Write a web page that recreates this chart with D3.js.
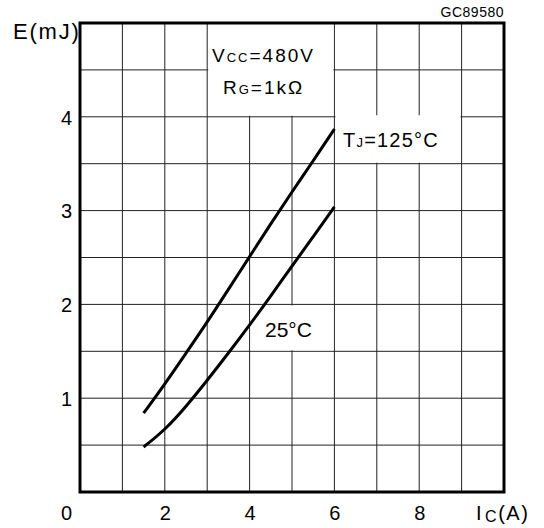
<!DOCTYPE html>
<html>
<head>
<meta charset="utf-8">
<script src="https://cdn.jsdelivr.net/npm/d3@7"></script>
<style>
  body { margin: 0; background: #fff; }
  text { font-family: "Liberation Sans", Arial, sans-serif; fill: #000; }
</style>
</head>
<body>
<div id="chart"></div>
<script>
// data
var xTicks = [0, 2, 4, 6, 8];
var yTicks = [1, 2, 3, 4];
var ic = [1.5, 2, 2.5, 3, 3.5, 4, 4.5, 5, 5.5, 6];
var e125 = [0.84, 1.15, 1.48, 1.81, 2.16, 2.51, 2.86, 3.20, 3.53, 3.87];
var e25 = [0.48, 0.66, 0.91, 1.19, 1.48, 1.78, 2.09, 2.41, 2.72, 3.04];

var W = 544, H = 528;
var svg = d3.select('#chart').append('svg')
    .attr('width', W)
    .attr('height', H);

var x = d3.scaleLinear().domain([0, 10]).range([80, 504]);
var y = d3.scaleLinear().domain([0, 5]).range([492, 23]);

// grid
var grid = svg.append('g').attr('stroke', '#222').attr('stroke-width', 1);
grid.selectAll('.vg')
    .data(d3.range(1, 10))
    .enter().append('line')
    .attr('x1', d => x(d)).attr('x2', d => x(d))
    .attr('y1', y(0)).attr('y2', y(5));
grid.selectAll('.hg')
    .data(d3.range(0.5, 5, 0.5))
    .enter().append('line')
    .attr('x1', x(0)).attr('x2', x(10))
    .attr('y1', d => y(d)).attr('y2', d => y(d));

// white boxes behind the labels
svg.append('rect')
    .attr('x', x(3) + 1).attr('y', y(5))
    .attr('width', x(6) - x(3) - 2).attr('height', y(4) - y(5) - 1)
    .attr('fill', '#fff');
svg.append('rect')
    .attr('x', x(6) + 1).attr('y', y(4) - 1.5)
    .attr('width', x(9) - x(6) - 2).attr('height', y(3.5) - y(4) + 0.5)
    .attr('fill', '#fff');
svg.append('rect')
    .attr('x', x(4) + 1).attr('y', y(2) + 1)
    .attr('width', x(6) - x(4) - 2).attr('height', y(1.5) - y(2) - 2)
    .attr('fill', '#fff');

// frame
svg.append('rect')
    .attr('x', x(0)).attr('y', y(5))
    .attr('width', x(10) - x(0)).attr('height', y(0) - y(5))
    .attr('fill', 'none')
    .attr('stroke', '#000')
    .attr('stroke-width', 3);

// curves
var line = d3.line()
    .x((d, i) => x(ic[i]))
    .y(d => y(d))
    .curve(d3.curveBasis);

[e125, e25].forEach(function (s) {
    svg.append('path')
        .datum(s)
        .attr('d', line)
        .attr('fill', 'none')
        .attr('stroke', '#000')
        .attr('stroke-width', 3);
});

// axes (labels only)
var yAxis = d3.axisLeft(y).tickValues(yTicks).tickFormat(d3.format('d')).tickSize(0).tickPadding(8);
svg.append('g')
    .attr('transform', 'translate(' + x(0) + ',0)')
    .call(yAxis)
    .call(g => g.select('.domain').remove())
    .selectAll('text')
    .style('font-family', '"Liberation Sans", Arial, sans-serif')
    .attr('font-size', 20)
    .attr('dy', '0.36em');

var xAxis = d3.axisBottom(x).tickValues(xTicks).tickFormat(d3.format('d')).tickSize(0).tickPadding(14);
svg.append('g')
    .attr('transform', 'translate(0,' + y(0) + ')')
    .call(xAxis)
    .call(g => g.select('.domain').remove())
    .selectAll('text')
    .style('font-family', '"Liberation Sans", Arial, sans-serif')
    .attr('font-size', 20)
    .attr('dx', d => d === 0 ? -14 : 0);

// axis titles
svg.append('text')
    .attr('x', 13).attr('y', 39)
    .attr('font-size', 22)
    .attr('letter-spacing', 1.8)
    .text('E(mJ)');

var ict = svg.append('text')
    .attr('x', 476).attr('y', 520)
    .attr('font-size', 20)
    .attr('letter-spacing', 1.5);
ict.append('tspan').text('I');
ict.append('tspan').attr('font-size', 16).attr('dy', 2).attr('dx', 2).text('C');
ict.append('tspan').attr('dy', -2).text('(A)');

svg.append('text')
    .attr('x', 504).attr('y', 17)
    .attr('text-anchor', 'end')
    .attr('font-size', 14)
    .attr('letter-spacing', 0.5)
    .text('GC89580');

// condition labels
var vcc = svg.append('text')
    .attr('x', 212).attr('y', 62)
    .attr('font-size', 19)
    .attr('letter-spacing', 2);
vcc.append('tspan').text('V');
vcc.append('tspan').attr('font-size', 13).text('CC');
vcc.append('tspan').text('=480V');

var rg = svg.append('text')
    .attr('x', 223).attr('y', 94)
    .attr('font-size', 19)
    .attr('letter-spacing', 2);
rg.append('tspan').text('R');
rg.append('tspan').attr('font-size', 13).text('G');
rg.append('tspan').text('=1kΩ');

var tj = svg.append('text')
    .attr('x', 343).attr('y', 147)
    .attr('font-size', 20)
    .attr('letter-spacing', 1.2);
tj.append('tspan').text('T');
tj.append('tspan').attr('font-size', 13).text('J');
tj.append('tspan').text('=125°C');

svg.append('text')
    .attr('x', 265).attr('y', 337)
    .attr('font-size', 21)
    .text('25°C');
</script>
</body>
</html>
